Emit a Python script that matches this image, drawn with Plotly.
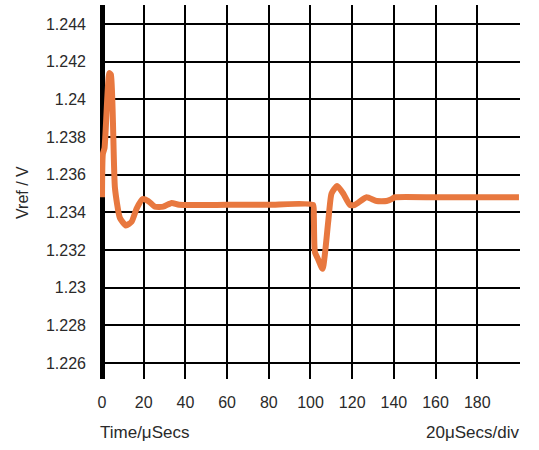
import plotly.graph_objects as go

# Data
time_us = [0, 0.4, 1.2, 3.5, 4.3, 6.2, 8.6, 11.5, 14.2, 16.6, 19.5, 22.2, 25.4, 29.4, 33.4, 37,
           60, 80, 101.2, 101.6, 102.1, 103.7, 105.8, 108.5, 110.1, 112.8, 115.7, 118.9, 121.3,
           126.9, 131.7, 136.5, 138.9, 140.5, 160, 180, 200]
vref_v = [1.2348, 1.2371, 1.2374, 1.2414, 1.2413, 1.2353, 1.2337, 1.2333, 1.2335, 1.2342, 1.2347,
          1.2346, 1.2343, 1.2343, 1.2345, 1.2344,
          1.2344, 1.2344, 1.2344, 1.2338, 1.2319, 1.2315, 1.2310, 1.2335, 1.2350, 1.2354, 1.2350,
          1.2344, 1.2344, 1.2348, 1.2346, 1.2346, 1.2347, 1.2348, 1.2348, 1.2348, 1.2348]

x_ticks = [0, 20, 40, 60, 80, 100, 120, 140, 160, 180]
y_ticks = [1.226, 1.228, 1.23, 1.232, 1.234, 1.236, 1.238, 1.24, 1.242, 1.244]
y_tick_text = ["1.226", "1.228", "1.23", "1.232", "1.234", "1.236", "1.238", "1.24", "1.242", "1.244"]

FONT = "Liberation Sans, Arial, sans-serif"
TXT = "#2a2a2a"

fig = go.Figure()
fig.add_trace(go.Scatter(
    x=time_us, y=vref_v, mode="lines",
    line=dict(color="#E8783F", width=6, shape="spline", smoothing=0.5),
    hoverinfo="skip", showlegend=False,
))

L, R, T, B = 100, 19, 5, 71
W, H = 539, 450
pw, ph = W - L - R, H - T - B

fig.update_layout(
    width=W, height=H,
    margin=dict(l=L, r=R, t=T, b=B, pad=0),
    paper_bgcolor="white", plot_bgcolor="white",
    font=dict(family=FONT, size=16, color=TXT),
    xaxis=dict(
        range=[-0.96, 200.5], tickvals=x_ticks, ticktext=[str(v) for v in x_ticks],
        showgrid=True, gridcolor="black", gridwidth=2,
        zeroline=True, zerolinecolor="black", zerolinewidth=5,
        showline=False, ticks="", ticklabelstandoff=12,
        tickfont=dict(family=FONT, size=16, color=TXT),
    ),
    yaxis=dict(
        range=[1.22515, 1.24501], tickvals=y_ticks, ticktext=y_tick_text,
        showgrid=True, gridcolor="black", gridwidth=2,
        zeroline=False, showline=False, ticks="", ticklabelstandoff=13,
        tickfont=dict(family=FONT, size=16, color=TXT),
    ),
    annotations=[
        dict(text="Time/μSecs", xref="paper", yref="paper",
             x=(98 - L) / pw, y=(H - B - 433) / ph, xanchor="left", yanchor="middle",
             showarrow=False, font=dict(family=FONT, size=17, color=TXT)),
        dict(text="20μSecs/div", xref="paper", yref="paper",
             x=(521 - L) / pw, y=(H - B - 433) / ph, xanchor="right", yanchor="middle",
             showarrow=False, font=dict(family=FONT, size=17, color=TXT)),
        dict(text="Vref / V", xref="paper", yref="paper", textangle=-90,
             x=(22 - L) / pw, y=(H - B - 193) / ph, xanchor="center", yanchor="middle",
             showarrow=False, font=dict(family=FONT, size=16, color=TXT)),
    ],
)

fig.write_html("out.html")
